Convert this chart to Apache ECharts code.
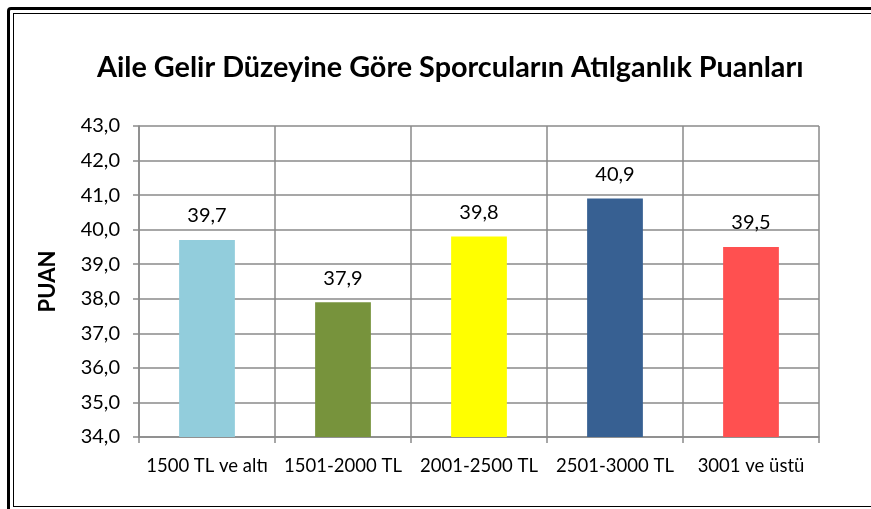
<!DOCTYPE html>
<html>
<head>
<meta charset="utf-8">
<script src="https://cdn.jsdelivr.net/npm/echarts@6/dist/echarts.min.js"></script>
<style>
  html, body { margin: 0; padding: 0; background: #fff; overflow: hidden; }
  #page { position: relative; width: 871px; height: 509px; overflow: hidden; }
  #frameOuter { position: absolute; left: 7px; top: 7px; width: 1200px; height: 700px; border: 3px solid #000; border-radius: 4px 0 0 0; }
  #frameInner { position: absolute; left: 13px; top: 13px; width: 1200px; height: 492px; border: 1.5px solid #000; border-right: none; }
  #main { position: absolute; left: 0; top: 0; width: 871px; height: 509px; }
</style>
</head>
<body>
<div id="page">
  <div id="frameOuter"></div>
  <div id="frameInner"></div>
  <div id="main"></div>
</div>
<script>
  var categories = ['1500 TL ve altı', '1501-2000 TL', '2001-2500 TL', '2501-3000 TL', '3001 ve üstü'];
  var puanValues = [39.7, 37.9, 39.8, 40.9, 39.5];
  var barColors = ['#92CDDC', '#77933C', '#FFFF00', '#376092', '#FF5050'];
  var yTicks = { min: 34, max: 43, interval: 1 };

  var fontName = 'Lato, "Open Sans", sans-serif';
  var gridColor = '#8a8a8a';

  function comma(v) {
    return Number(v).toFixed(1).replace('.', ',');
  }

  var myChart = echarts.init(document.getElementById('main'));

  var option = {
    backgroundColor: 'transparent',
    animation: false,
    title: {
      text: 'Aile Gelir Düzeyine Göre Sporcuların Atılganlık Puanları',
      left: 92,
      top: 48,
      textStyle: {
        fontFamily: fontName,
        fontSize: 28.8,
        fontWeight: 'bold',
        color: '#000'
      }
    },
    grid: {
      left: 139,
      right: 52,
      top: 126,
      bottom: 72
    },
    xAxis: {
      type: 'category',
      data: categories,
      axisLine: { lineStyle: { color: gridColor, width: 1.5 } },
      axisTick: { show: true, length: 6, lineStyle: { color: gridColor, width: 1.5 } },
      splitLine: { show: true, lineStyle: { color: gridColor, width: 1.5 } },
      axisLabel: {
        interval: 0,
        margin: 20,
        fontFamily: fontName,
        fontSize: 18.5,
        color: '#000'
      }
    },
    yAxis: {
      type: 'value',
      min: yTicks.min,
      max: yTicks.max,
      interval: yTicks.interval,
      name: 'PUAN',
      nameLocation: 'middle',
      nameGap: 80,
      nameTextStyle: {
        fontFamily: fontName,
        fontSize: 22,
        fontWeight: 'bold',
        color: '#000'
      },
      axisLine: { show: true, lineStyle: { color: gridColor, width: 1.5 } },
      axisTick: { show: true, length: 6, lineStyle: { color: gridColor, width: 1.5 } },
      splitLine: { show: true, lineStyle: { color: gridColor, width: 1.5 } },
      axisLabel: {
        margin: 19,
        fontFamily: fontName,
        fontSize: 20,
        color: '#000',
        formatter: comma
      }
    },
    series: [{
      name: 'PUAN',
      type: 'bar',
      barWidth: '41%',
      data: puanValues.map(function (v, i) {
        return { value: v, itemStyle: { color: barColors[i] } };
      }),
      label: {
        show: true,
        position: 'top',
        distance: 14,
        fontFamily: fontName,
        fontSize: 20,
        color: '#000',
        formatter: function (p) { return comma(p.value); }
      }
    }]
  };
  myChart.setOption(option);
</script>
</body>
</html>
